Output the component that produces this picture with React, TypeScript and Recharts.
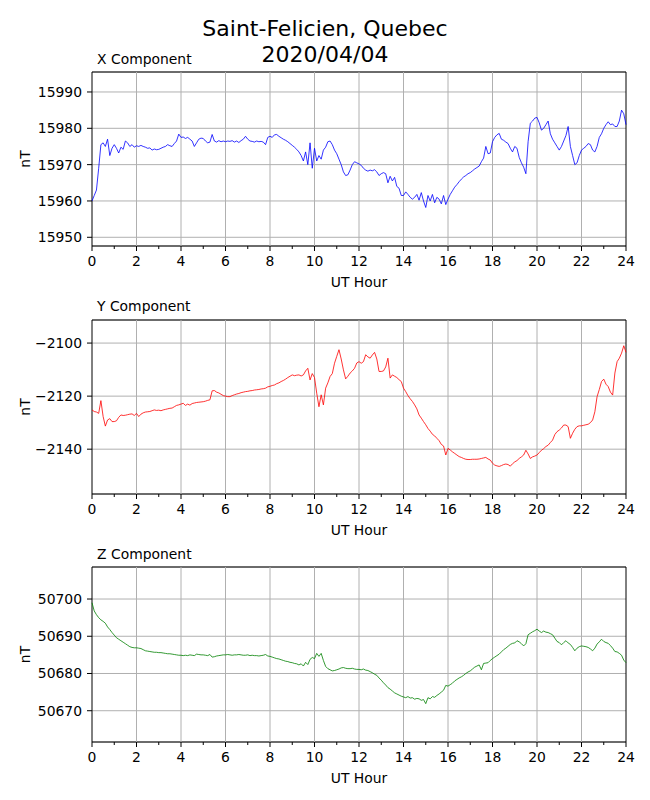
import { LineChart, Line, XAxis, YAxis, CartesianGrid, ReferenceLine, ReferenceArea } from 'recharts'

// one sample every 0.1 h, 0..24 UT
const HOURS = Array.from({ length: 241 }, (_, i) => i / 10)
const HOUR_TICKS = Array.from({ length: 25 }, (_, i) => i)
const GRID_HOURS = [2, 4, 6, 8, 10, 12, 14, 16, 18, 20, 22]

const X_NT = [
  15960, 15961.5, 15963, 15969, 15975.5, 15976, 15975, 15977, 15972.5, 15974.5,
  15975.5, 15974.5, 15973.2, 15974.8, 15974.2, 15976.5, 15976, 15975, 15975.5, 15974.8,
  15975.2, 15975, 15975.3, 15975, 15974.8, 15974.5, 15974.6, 15974, 15974.3, 15974.1,
  15974.2, 15974.5, 15974.8, 15975, 15975.5, 15975.2, 15975, 15975.8, 15976.5, 15978.4,
  15977.5, 15977.6, 15977.2, 15977.5, 15977, 15976.5, 15975, 15976, 15977, 15977.3,
  15977.2, 15976.5, 15976, 15976.2, 15978.3, 15976.5, 15976.2, 15976.6, 15976.3, 15976.5,
  15976.3, 15976.5, 15976.4, 15976.6, 15976.2, 15976.5, 15976.1, 15976.6, 15977, 15977.8,
  15977, 15976.5, 15976.4, 15976.2, 15976.5, 15976.3, 15976.4, 15976.2, 15975.5, 15977.5,
  15977.8, 15977.5, 15978.2, 15978.3, 15977.8, 15977.4, 15977, 15976.7, 15976.3, 15975.8,
  15975.3, 15974.8, 15974.2, 15973.5, 15972.5, 15971, 15973.5, 15970, 15976, 15969,
  15974.5, 15971, 15972.5, 15971.5, 15974, 15974.8, 15976.3, 15976.5, 15975.5, 15974,
  15973, 15971.5, 15970, 15968, 15967, 15967.2, 15968.5, 15970, 15970.8, 15970.5,
  15970.2, 15969.8, 15969, 15968.5, 15968.2, 15968.5, 15968.3, 15968.6, 15968, 15967,
  15967.5, 15967.8, 15967.5, 15965, 15966.8, 15965.5, 15966.5, 15964, 15963.5, 15961.5,
  15961.5, 15962.5, 15961.8, 15961, 15960.5, 15961, 15961.8, 15960.2, 15962.3, 15960,
  15958.2, 15961.5, 15960, 15961.8, 15959.5, 15961, 15960.5, 15959.2, 15961.5, 15959,
  15960.5, 15961.8, 15962.8, 15963.8, 15964.5, 15965.3, 15966, 15966.6, 15967, 15967.5,
  15967.8, 15968.3, 15968.8, 15969.2, 15969.6, 15970.8, 15971.8, 15975, 15973, 15973.2,
  15976.3, 15977.5, 15978.2, 15978.6, 15977, 15976.7, 15976.2, 15975.8, 15974.5, 15973.5,
  15975, 15974.5, 15972, 15970.5, 15969.3, 15967.5, 15976.3, 15981.4, 15982, 15982.8,
  15983, 15981.5, 15979.5, 15980, 15981, 15982, 15978.5, 15977, 15976, 15975,
  15974, 15975, 15976.5, 15978, 15980.5, 15975, 15972.5, 15970, 15970.5, 15972.5,
  15974, 15974.5, 15975, 15975.8, 15975.5, 15974, 15973.5, 15975, 15977.5, 15978.5,
  15980, 15981, 15981.8, 15981, 15981.2, 15980.5, 15980.5, 15982, 15985, 15984,
  15981,
]

const Y_NT = [
  -2125.2, -2125.8, -2126, -2126.5, -2121.7, -2127.7, -2131.3, -2129, -2128.5, -2129.6,
  -2129.6, -2129.3, -2128, -2127.1, -2127.3, -2127.2, -2127, -2126.8, -2126.7, -2127.3,
  -2126.5, -2127.7, -2126.8, -2126.3, -2126, -2125.9, -2125.8, -2125.5, -2125.2, -2125.4,
  -2125.3, -2125.5, -2125.2, -2125, -2124.8, -2124.6, -2124.5, -2124, -2123.5, -2123.3,
  -2123, -2122.7, -2123.5, -2123, -2123.4, -2122.8, -2122.6, -2122.4, -2122.3, -2122.2,
  -2122.1, -2121.9, -2121.6, -2121.4, -2118, -2117.9, -2118.5, -2118.8, -2119.3, -2119.8,
  -2120, -2120.2, -2120.2, -2119.8, -2119.5, -2119.2, -2119, -2118.7, -2118.5, -2118.3,
  -2118.2, -2118, -2117.9, -2117.7, -2117.6, -2117.5, -2117.3, -2117.2, -2117, -2116.5,
  -2116.3, -2116, -2115.8, -2115.3, -2115, -2114.5, -2114.1, -2113.6, -2113, -2112.5,
  -2112, -2112.3, -2112.1, -2112, -2112.4, -2112, -2110.5, -2109.5, -2113.9, -2111.5,
  -2113, -2118.9, -2124, -2119.5, -2123.3, -2117, -2115, -2112.6, -2111.5, -2107.6,
  -2105, -2102.5, -2106, -2110.1, -2113.5, -2112.5, -2111.3, -2110.5, -2109.5, -2107.5,
  -2107, -2107.6, -2107, -2104.4, -2105.2, -2105.7, -2104.5, -2103.5, -2106, -2110.7,
  -2110.7, -2110.5, -2109, -2105.7, -2113.2, -2112, -2112.5, -2113, -2113.8, -2114.5,
  -2117, -2118.3, -2119.8, -2121, -2122, -2123.3, -2124.8, -2127.1, -2128.3, -2129.6,
  -2130.8, -2132.2, -2133.2, -2134.4, -2135, -2135.9, -2136.8, -2138.2, -2138.8, -2142.2,
  -2139.7, -2140.3, -2141, -2141.6, -2142.2, -2142.8, -2143.1, -2143.5, -2143.8, -2143.9,
  -2143.9, -2143.8, -2143.8, -2143.8, -2143.7, -2143.5, -2143.3, -2143.1, -2143.7, -2144.1,
  -2145.3, -2146, -2146.3, -2146.5, -2146.2, -2145.8, -2145.6, -2145.8, -2146.4, -2145.5,
  -2144.8, -2144.3, -2143.5, -2142.9, -2142.2, -2140.4, -2141.8, -2143.5, -2142.9, -2142.6,
  -2142.2, -2141.3, -2140.4, -2139.8, -2139, -2138.5, -2137.5, -2136.6, -2134.5, -2133.4,
  -2132.8, -2132, -2130.9, -2130.9, -2131.5, -2135.9, -2134, -2132.5, -2131.5, -2131.2,
  -2131.2, -2131, -2130.8, -2130.6, -2130, -2129, -2125.9, -2120.2, -2117.5, -2114.5,
  -2113.6, -2115.5, -2116.4, -2118.5, -2119.6, -2111.3, -2107, -2105.7, -2103.8, -2101,
  -2103.5,
]

const Z_NT = [
  50699, 50696.8, 50695.8, 50695, 50694.4, 50694, 50693.5, 50692.5, 50691.8, 50691,
  50690.3, 50689.6, 50689.2, 50688.8, 50688.4, 50688, 50687.6, 50687.2, 50687, 50686.9,
  50686.9, 50686.8, 50686.7, 50686.4, 50686.1, 50686, 50685.9, 50685.8, 50685.7, 50685.7,
  50685.6, 50685.6, 50685.5, 50685.4, 50685.3, 50685.3, 50685.2, 50685.1, 50685, 50684.9,
  50684.9, 50684.8, 50684.9, 50684.8, 50685, 50684.9, 50684.8, 50685.2, 50685.1, 50685,
  50685, 50684.9, 50684.8, 50685.1, 50684.4, 50684.5, 50684.7, 50684.8, 50684.9, 50685,
  50685, 50685.1, 50685, 50684.9, 50685, 50685, 50685.1, 50685, 50684.9, 50684.9,
  50685, 50684.8, 50684.9, 50684.8, 50684.8, 50684.7, 50684.8, 50684.9, 50685.1, 50684.7,
  50684.6, 50684.4, 50684.2, 50684, 50683.9, 50683.7, 50683.5, 50683.3, 50683.2, 50683,
  50682.9, 50682.7, 50682.6, 50682.3, 50682.6, 50682, 50683, 50682.4, 50683.8, 50684.3,
  50684, 50685.4, 50684.6, 50685.4, 50683.5, 50681.9, 50681.3, 50681, 50680.7, 50680.8,
  50681, 50681.2, 50681.5, 50681.6, 50681.4, 50681.3, 50681.3, 50681.4, 50681.2, 50681.1,
  50681.1, 50681, 50681.2, 50680.9, 50680.8, 50680.5, 50680.2, 50679.8, 50679.5, 50678.8,
  50678.2, 50677.5, 50676.9, 50676.2, 50675.8, 50675.3, 50674.8, 50674.5, 50674.2, 50673.9,
  50673.7, 50673.5, 50673.8, 50673.4, 50673.5, 50673.1, 50673.3, 50673.2, 50672.8, 50673,
  50671.9, 50673.5, 50673.2, 50673.8, 50673.6, 50674.1, 50674.5, 50675, 50675.5, 50676.8,
  50676.6, 50677, 50677.4, 50678, 50678.4, 50678.8, 50679.1, 50679.5, 50680, 50680.4,
  50680.7, 50681.2, 50681.7, 50682, 50682.3, 50681, 50682.7, 50682.8, 50682.9, 50683.5,
  50684, 50684.4, 50684.8, 50685.2, 50685.8, 50686.4, 50686.8, 50687.3, 50687.8, 50688.1,
  50688.2, 50688.8, 50688.5, 50688, 50687.4, 50688, 50690.4, 50690.8, 50691.2, 50691.5,
  50691.9, 50691.4, 50691, 50691.4, 50691.1, 50691, 50690.7, 50690.4, 50689.5, 50688.6,
  50688.3, 50687.7, 50688.3, 50688.8, 50688.2, 50687.8, 50687, 50686.1, 50686.8, 50687.2,
  50687.4, 50687.3, 50687.2, 50687, 50686.6, 50686.1, 50686.8, 50687.9, 50688.5, 50689.2,
  50688.6, 50688.3, 50688.1, 50687.5, 50686.8, 50685.9, 50685.8, 50685.4, 50684.9, 50683.6,
  50682.9,
]

const X_TICKS = [15950, 15960, 15970, 15980, 15990]
const Y_TICKS = [-2140, -2120, -2100]
const Z_TICKS = [50670, 50680, 50690, 50700]

const X_DOMAIN = [15947.6, 15995.5]
const Y_DOMAIN = [-2156.9, -2091.3]
const Z_DOMAIN = [50661.6, 50708.6]

const data = HOURS.map((t, i) => ({ t, x: X_NT[i], y: Y_NT[i], z: Z_NT[i] }))

const FONT = 'DejaVu Sans, sans-serif'
const FS = 13.9
const GRID = '#b0b0b0'

const fmtMinus = (v: number) => (v < 0 ? `\u2212${Math.abs(v)}` : `${v}`)

const HourTick = ({ x, y, payload }: any) => {
  const major = payload.value % 2 === 0
  return (
    <g>
      <line x1={x} x2={x} y1={y} y2={y + (major ? 5 : 3)} stroke="#000" strokeWidth={1} />
      {major && (
        <text x={x} y={y + 10} dy="0.71em" textAnchor="middle" fontSize={FS} fill="#000" fontFamily={FONT}>
          {payload.value}
        </text>
      )}
    </g>
  )
}

// tickSize/tickMargin are 0, so x is the left spine
const ValueTick = ({ x, y, payload }: any) => (
  <g>
    <line x1={x - 5} x2={x} y1={y} y2={y} stroke="#000" strokeWidth={1} />
    <text x={x - 10} y={y} dy="0.36em" textAnchor="end" fontSize={FS} fill="#000" fontFamily={FONT}>
      {fmtMinus(payload.value)}
    </text>
  </g>
)

interface PanelProps {
  top: number
  marginTop: number
  plotHeight: number
  dataKey: string
  color: string
  domain: number[]
  ticks: number[]
}

function Panel({ top, marginTop, plotHeight, dataKey, color, domain, ticks }: PanelProps) {
  return (
    <div style={{ position: 'absolute', left: 0, top }}>
      <LineChart
        width={650}
        height={marginTop + plotHeight + 50}
        data={data}
        margin={{ top: marginTop, right: 24, bottom: 0, left: 0 }}
        style={{ fontFamily: FONT }}
      >
        <CartesianGrid vertical={false} stroke={GRID} strokeWidth={1} />
        {GRID_HOURS.map((h) => (
          <ReferenceLine key={h} x={h} stroke={GRID} strokeWidth={1} />
        ))}
        <XAxis
          dataKey="t"
          type="number"
          domain={[0, 24]}
          ticks={HOUR_TICKS}
          interval={0}
          height={50}
          tickSize={0}
          tickMargin={0}
          tickLine={false}
          axisLine={false}
          tick={<HourTick />}
          label={{
            content: ({ viewBox }: any) => (
              <text
                x={viewBox.x + viewBox.width / 2}
                y={viewBox.y + 41}
                textAnchor="middle"
                fontSize={FS}
                fill="#000"
                fontFamily={FONT}
              >
                UT Hour
              </text>
            ),
          }}
        />
        <YAxis
          type="number"
          domain={domain}
          ticks={ticks}
          allowDataOverflow
          interval={0}
          width={92}
          tickSize={0}
          tickMargin={0}
          axisLine={false}
          tickLine={false}
          tick={<ValueTick />}
          label={{
            content: ({ viewBox }: any) => {
              const cx = 25
              const cy = viewBox.y + viewBox.height / 2
              return (
                <text
                  x={cx}
                  y={cy}
                  transform={`rotate(-90 ${cx} ${cy})`}
                  textAnchor="middle"
                  dominantBaseline="central"
                  fontSize={FS}
                  fill="#000"
                  fontFamily={FONT}
                >
                  nT
                </text>
              )
            },
          }}
        />
        <Line
          type="linear"
          dataKey={dataKey}
          stroke={color}
          strokeWidth={0.8}
          dot={false}
          activeDot={false}
          isAnimationActive={false}
        />
        <ReferenceArea x1={0} x2={24} y1={domain[0]} y2={domain[1]} fill="none" stroke="#000" strokeWidth={1} />
      </LineChart>
    </div>
  )
}

export default function App() {
  return (
    <div
      style={{
        position: 'absolute',
        left: 0,
        top: 0,
        width: 650,
        height: 800,
        background: '#fff',
        fontFamily: FONT,
      }}
    >
      <svg width={650} height={800} style={{ position: 'absolute', left: 0, top: 0 }}>
        <text x={325} y={36} textAnchor="middle" fontSize={22} fill="#000" fontFamily={FONT}>
          Saint-Felicien, Quebec
        </text>
        <text x={325} y={62} textAnchor="middle" fontSize={22} fill="#000" fontFamily={FONT}>
          2020/04/04
        </text>
        <text x={97} y={64} fontSize={FS} fill="#000" fontFamily={FONT}>X Component</text>
        <text x={97} y={311} fontSize={FS} fill="#000" fontFamily={FONT}>Y Component</text>
        <text x={97} y={559} fontSize={FS} fill="#000" fontFamily={FONT}>Z Component</text>
      </svg>
      <Panel top={0} marginTop={72} plotHeight={174} dataKey="x" color="#0000ff" domain={X_DOMAIN} ticks={X_TICKS} />
      <Panel top={300} marginTop={20} plotHeight={174} dataKey="y" color="#ff0000" domain={Y_DOMAIN} ticks={Y_TICKS} />
      <Panel top={545} marginTop={22} plotHeight={175} dataKey="z" color="#008000" domain={Z_DOMAIN} ticks={Z_TICKS} />
    </div>
  )
}
